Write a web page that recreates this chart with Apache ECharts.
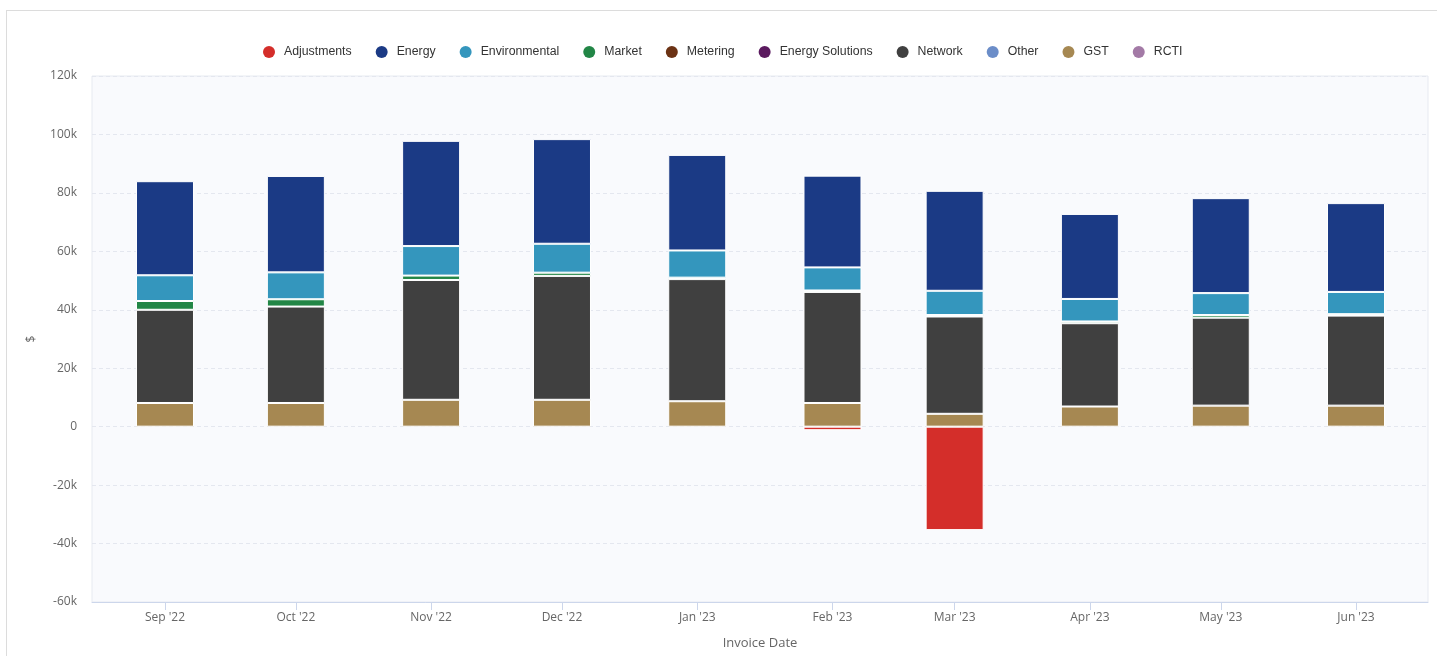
<!DOCTYPE html>
<html>
<head>
<meta charset="utf-8">
<title>Invoice breakdown by month</title>
<script src="https://cdn.jsdelivr.net/npm/echarts@6/dist/echarts.min.js"></script>
<style>
  html, body { margin: 0; padding: 0; background: #fff; overflow: hidden; }
  #frame { position: absolute; left: 6px; top: 10px; width: 1500px; height: 700px;
           border: 1px solid #dcdcdc; box-sizing: border-box; }
  #chart { position: absolute; left: 0; top: 0; width: 1437px; height: 656px; }
</style>
</head>
<body>
<div id="frame"></div>
<div id="chart"></div>
<script>
// Invoice months and their axis labels
const invoiceMonths = ['2022-09', '2022-10', '2022-11', '2022-12', '2023-01',
                       '2023-02', '2023-03', '2023-04', '2023-05', '2023-06'];
const monthLabels = ["Sep '22", "Oct '22", "Nov '22", "Dec '22", "Jan '23",
                     "Feb '23", "Mar '23", "Apr '23", "May '23", "Jun '23"];

// Charge amounts per month ($)
const adjustments     = [0, 0, 0, 0, 0, -1200, -35400, 0, 0, 0];
const energy          = [32200, 33000, 36000, 35800, 32700, 31400, 34200, 29100, 32500, 30400];
const environmental   = [8800, 9200, 10100, 9900, 9300, 7900, 8300, 7700, 7500, 7600];
const market          = [3000, 2500, 1500, 1100, 500, 500, 500, 600, 900, 500];
const metering        = [0, 0, 0, 0, 0, 0, 0, 0, 0, 0];
const energySolutions = [0, 0, 0, 0, 0, 0, 0, 0, 0, 0];
const network         = [31900, 33000, 41000, 42400, 41800, 38000, 33300, 28500, 30100, 30800];
const other           = [0, 0, 0, 0, 0, 0, 0, 0, 0, 0];
const gst             = [8100, 8100, 9200, 9200, 8700, 8100, 4400, 6900, 7200, 7200];
const rcti            = [0, 0, 0, 0, 0, 0, 0, 0, 0, 0];

// Y axis range
const yMin = -60000, yMax = 120000, yStep = 20000;

const DAY = 86400000;
// First day of each invoice month (local time, same as the time axis ticks)
const monthTimes = invoiceMonths.map(s => {
  const [y, m] = s.split('-').map(Number);
  return new Date(y, m - 1, 1).getTime();
});
const labelFor = v => {
  const d = new Date(v);
  const key = d.getFullYear() + '-' + String(d.getMonth() + 1).padStart(2, '0');
  const i = invoiceMonths.indexOf(key);
  return (i >= 0 && d.getDate() === 1 && d.getHours() === 0) ? monthLabels[i] : '';
};

// Plot geometry
const PLOT_W = 1437 - 92 - 9;
const BAR_W = 58;
// Wanted half-month margins around the first and last bars; the time axis adds
// room for half a bar on each side by itself, so that part is taken back here.
const padBefore = 16.73, padAfter = 16.5;
const spanDays = (monthTimes[monthTimes.length - 1] - monthTimes[0]) / DAY + padBefore + padAfter;
const barRoom = spanDays * (BAR_W / PLOT_W) / 2;

// Legend order (top of the stack first)
const legendSeries = [
  { name: 'Adjustments',      values: adjustments,     color: '#d42e2a' },
  { name: 'Energy',           values: energy,          color: '#1b3a85' },
  { name: 'Environmental',    values: environmental,   color: '#3496bd' },
  { name: 'Market',           values: market,          color: '#228646' },
  { name: 'Metering',         values: metering,        color: '#6b3214' },
  { name: 'Energy Solutions', values: energySolutions, color: '#5b1a5f' },
  { name: 'Network',          values: network,         color: '#404040' },
  { name: 'Other',            values: other,           color: '#6b8dc8' },
  { name: 'GST',              values: gst,             color: '#a68852' },
  { name: 'RCTI',             values: rcti,            color: '#a37aa6' }
];

// Stack from the bottom up: last legend entry sits lowest.
// Empty months keep their slot in the stack but draw nothing.
const series = legendSeries.slice().reverse().map(s => ({
  name: s.name,
  type: 'bar',
  stack: 'total',
  barWidth: BAR_W,
  color: s.color,
  itemStyle: { color: s.color, borderColor: '#ffffff', borderWidth: 1 },
  emphasis: { disabled: true },
  data: s.values.map((v, i) => (v === 0
    ? { value: [monthTimes[i], 0], itemStyle: { borderWidth: 0, opacity: 0 } }
    : { value: [monthTimes[i], v] }))
}));

const chart = echarts.init(document.getElementById('chart'), null, { renderer: 'canvas' });
chart.setOption({
  animation: false,
  legend: {
    top: 41,
    left: 258,
    icon: 'circle',
    itemWidth: 12,
    itemHeight: 12,
    itemGap: 24,
    itemStyle: { borderWidth: 0 },
    data: legendSeries.map(s => s.name),
    textStyle: { fontFamily: 'Liberation Sans', fontSize: 12.3, color: '#333', padding: [0, 0, 0, 4] }
  },
  grid: {
    left: 92, right: 9, top: 76, bottom: 54,
    show: true,
    backgroundColor: '#f9fafd',
    borderColor: '#e7eaf1',
    borderWidth: 1
  },
  xAxis: {
    type: 'time',
    min: monthTimes[0] - (padBefore - barRoom) * DAY,
    max: monthTimes[monthTimes.length - 1] + (padAfter - barRoom) * DAY,
    splitNumber: 10,
    minInterval: 28 * DAY,
    maxInterval: 31 * DAY,
    name: 'Invoice Date',
    nameLocation: 'middle',
    nameGap: 35,
    nameTextStyle: { fontFamily: 'Open Sans', fontSize: 13, color: '#666' },
    axisLine: { show: true, onZero: false, lineStyle: { color: '#ccd6eb', width: 1 } },
    axisTick: { show: true, length: 8, lineStyle: { color: '#ccd6eb' } },
    axisLabel: {
      formatter: v => labelFor(v),
      fontFamily: 'Open Sans', fontSize: 12, color: '#666', margin: 10,
      hideOverlap: false
    },
    splitLine: { show: false }
  },
  yAxis: {
    type: 'value',
    min: yMin, max: yMax, interval: yStep,
    name: '$',
    nameLocation: 'middle',
    nameGap: 54,
    nameRotate: 90,
    nameTextStyle: { fontFamily: 'Open Sans', fontSize: 12, color: '#666' },
    axisLine: { show: false },
    axisTick: { show: false },
    axisLabel: {
      formatter: v => (v === 0 ? '0' : (v / 1000) + 'k'),
      fontFamily: 'Open Sans', fontSize: 12, color: '#666', margin: 15
    },
    splitLine: { show: true, lineStyle: { color: '#e4e7ef', width: 1, type: [4, 3] } }
  },
  series: series
});
</script>
</body>
</html>
